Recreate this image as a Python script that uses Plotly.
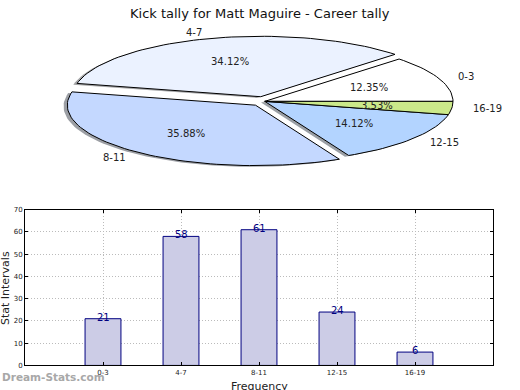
import math
import plotly.graph_objects as go

# ---- data ----
categories = ["0-3", "4-7", "8-11", "12-15", "16-19"]
counts = [21, 58, 61, 24, 6]
explode = [0, 0.08, 0.08, 0, 0]
pie_colors = ["#ffffff", "#ebf2ff", "#c4d8ff", "#b3d4ff", "#cbe98a"]
y_ticks = [0, 10, 20, 30, 40, 50, 60, 70]

W, H = 520, 390
# pie geometry (pixels)
cx, cy, ax_a, ax_b = 264.8, 99.4, 188.2, 61.7
pie_top_px, pie_bot_px = 0, 190

fig = go.Figure()

total = sum(counts)
font = "DejaVu Sans"

# compute wedges
wedges = []
theta = 0.0
for cat, v, e, col in zip(categories, counts, explode, pie_colors):
    frac = v / total
    t1, t2 = theta, theta + 360 * frac
    mid = math.radians((t1 + t2) / 2)
    ox, oy = e * math.cos(mid), e * math.sin(mid)
    n = max(8, int((t2 - t1) / 2))
    xs, ys = [ox], [oy]
    for i in range(n + 1):
        t = math.radians(t1 + (t2 - t1) * i / n)
        xs.append(ox + math.cos(t))
        ys.append(oy + math.sin(t))
    xs.append(ox)
    ys.append(oy)
    wedges.append((cat, v, frac, mid, ox, oy, xs, ys, col))
    theta = t2

def darken(hexcol):
    h = hexcol.lstrip("#")
    r, g, b = (int(h[i:i + 2], 16) for i in (0, 2, 4))
    return f"rgba({int(r*0.3)},{int(g*0.3)},{int(b*0.3)},0.5)"

# shadows
for cat, v, frac, mid, ox, oy, xs, ys, col in wedges:
    fig.add_trace(go.Scatter(
        x=[x - 0.02 for x in xs], y=[y - 0.02 for y in ys],
        fill="toself", fillcolor=darken(col), mode="lines",
        line=dict(width=0), hoverinfo="skip", showlegend=False,
        xaxis="x", yaxis="y"))
# wedges
for cat, v, frac, mid, ox, oy, xs, ys, col in wedges:
    fig.add_trace(go.Scatter(
        x=xs, y=ys, fill="toself", fillcolor=col, mode="lines",
        line=dict(width=1, color="black"), name=cat,
        showlegend=False, xaxis="x", yaxis="y"))

annotations = []
for cat, v, frac, mid, ox, oy, xs, ys, col in wedges:
    lx = ox + 1.1 * math.cos(mid)
    ly = oy + 1.1 * math.sin(mid)
    annotations.append(dict(
        x=lx, y=ly, xref="x", yref="y", text=cat, showarrow=False,
        xanchor="left" if lx > 0 else "right", yanchor="middle",
        font=dict(family=font, size=10, color="#222")))
    px_ = ox + 0.6 * math.cos(mid)
    py_ = oy + 0.6 * math.sin(mid)
    annotations.append(dict(
        x=px_, y=py_, xref="x", yref="y", text=f"{frac*100:.2f}%",
        showarrow=False, xanchor="center", yanchor="middle",
        font=dict(family=font, size=10, color="#222")))

# bar chart
xpos = list(range(len(categories)))
fig.add_trace(go.Bar(
    x=xpos, y=counts, width=0.46,
    marker=dict(color="#ccccE6", line=dict(color="#000080", width=1)),
    showlegend=False, xaxis="x2", yaxis="y2"))
for x, v in zip(xpos, counts):
    annotations.append(dict(
        x=x, y=v, xref="x2", yref="y2", text=str(v), showarrow=False,
        xanchor="center", yanchor="bottom", yshift=-6,
        font=dict(family=font, size=10, color="#000080")))

# titles / labels
annotations.append(dict(
    x=0.5, y=1 - 10 / H, xref="paper", yref="paper",
    text="Kick tally for Matt Maguire - Career tally", showarrow=False,
    xanchor="center", yanchor="middle",
    font=dict(family=font, size=13, color="#111")))
annotations.append(dict(
    x=5 / W, y=1 - 290 / H, xref="paper", yref="paper",
    text="Stat Intervals", showarrow=False, textangle=-90,
    xanchor="center", yanchor="middle",
    font=dict(family=font, size=11, color="#222")))
annotations.append(dict(
    x=259 / W, y=1 - 382 / H, xref="paper", yref="paper",
    text="Frequency", showarrow=False,
    xanchor="center", yanchor="top",
    font=dict(family=font, size=11, color="#222")))
annotations.append(dict(
    x=0, y=1 - 381 / H, xref="paper", yref="paper",
    text="Dream-Stats.com", showarrow=False,
    xanchor="left", yanchor="middle",
    font=dict(family=font, size=10.5, color="#a8a8a8", weight="bold")))

x_rng = [(0 - cx) / ax_a, (W - cx) / ax_a]
y_rng = [(cy - pie_bot_px) / ax_b, (cy - pie_top_px) / ax_b]

grid = dict(showgrid=True, gridcolor="#bbbbbb", griddash="1px,2px", gridwidth=1,
            showline=True, linecolor="black", linewidth=1, mirror="ticks",
            ticks="inside", ticklen=3, tickcolor="black",
            tickfont=dict(family=font, size=7, color="#222"),
            zeroline=False)

fig.update_layout(
    width=W, height=H,
    margin=dict(l=0, r=0, t=0, b=0),
    paper_bgcolor="white", plot_bgcolor="white",
    annotations=annotations,
    xaxis=dict(domain=[0, 1], range=x_rng, visible=False),
    yaxis=dict(domain=[1 - pie_bot_px / H, 1 - pie_top_px / H],
               range=y_rng, visible=False),
    xaxis2=dict(domain=[25 / W, 493 / W], range=[-1, 5], anchor="y2",
                tickvals=xpos, ticktext=categories, **grid),
    yaxis2=dict(domain=[1 - 369 / H, 1 - 210 / H], range=[0, 70], anchor="x2",
                tickvals=y_ticks, **grid),
)

fig.write_html("out.html", config={"displayModeBar": False},
               post_script="document.body.style.margin='0';document.body.style.overflow='hidden';")
